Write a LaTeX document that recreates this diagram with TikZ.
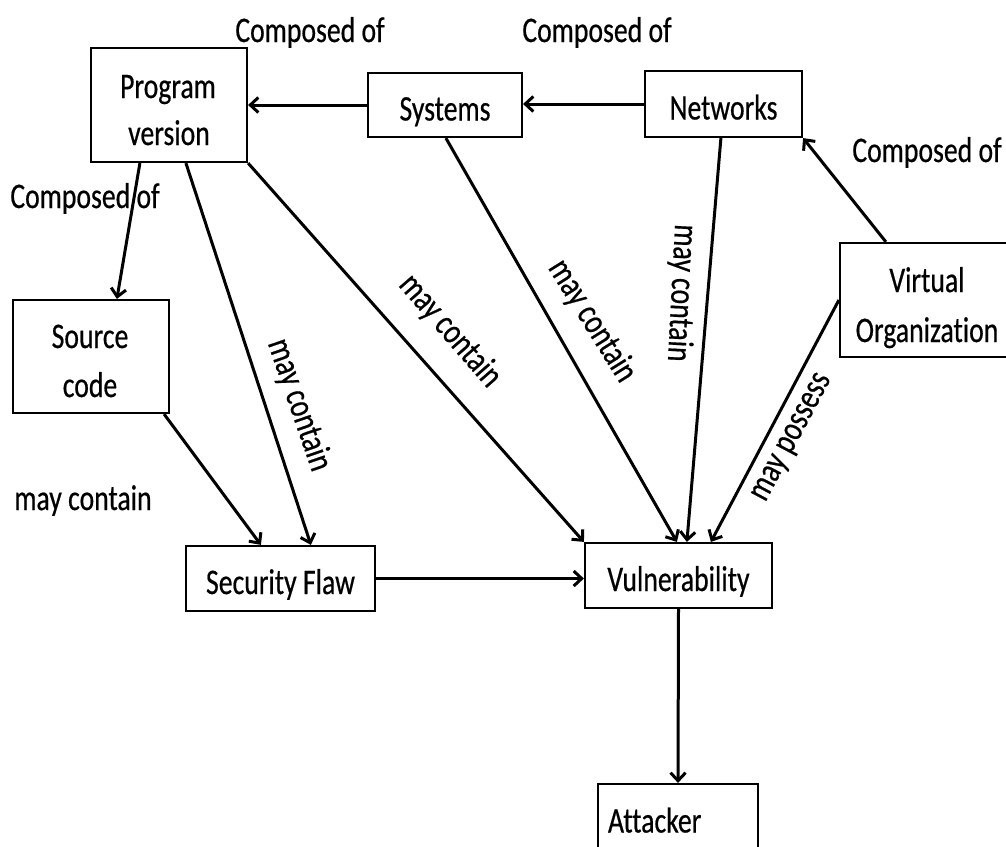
\documentclass[tikz,border=0pt]{standalone}
\usepackage{fontspec}
\setmainfont{Carlito}[FakeStretch=0.77,FakeBold=0.5,Ligatures=NoCommon]
\usetikzlibrary{arrows.meta,calc}
\begin{document}
\begin{tikzpicture}[x=1pt,y=-1pt,
  txt/.style={font=\fontsize{36}{48}\selectfont},
  ent/.style={txt,draw,line width=2.2pt,rectangle,inner sep=0pt,text height=31pt,text depth=0pt},
  lbl/.style={txt,inner sep=0pt},
  arr/.style={line width=3pt,-{Straight Barb[length=8pt,width=15pt,line width=3pt]}}]
\useasboundingbox (0,0) rectangle (1006,846);

% entities
\node[ent,minimum width=156pt,minimum height=114pt] (pv)  at (169,105)   {};
\node[lbl,anchor=base] (pv1) at ($(pv)+(-1,-7)$) {Program};
\node[lbl,anchor=base] (pv2) at ($(pv)+(0,40)$)  {version};
\node[ent,minimum width=154pt,minimum height=64pt]  (sys) at (445,105)   {Systems};
\node[ent,minimum width=157pt,minimum height=66pt]  (net) at (723.5,104) {Networks};
\node[ent,minimum width=174pt,minimum height=114pt] (vo)  at (927,300)   {};
\node[lbl,anchor=base] (vo1) at ($(vo)+(0,-8)$)  {Virtual};
\node[lbl,anchor=base] (vo2) at ($(vo)+(0,42)$)  {Organization};
\node[ent,minimum width=156pt,minimum height=113pt] (src) at (91,356.5)  {};
\node[lbl,anchor=base] (src1) at ($(src)+(-1,-8.5)$) {Source};
\node[lbl,anchor=base] (src2) at ($(src)+(-1,40.5)$) {code};
\node[ent,minimum width=189pt,minimum height=65pt]  (sf)  at (280.5,578.5) {Security Flaw};
\node[ent,minimum width=187pt,minimum height=65pt]  (vul) at (678.5,575.5) {Vulnerability};
\node[ent,minimum width=160pt,minimum height=74pt,text width=140pt,align=left,text height=23pt] (att) at (678,821) {Attacker};

% relations
\draw[arr] (sys.west) -- (pv.east);
\draw[arr] (net.west) -- (sys.east |- net.west);
\draw[arr] ($(vo.north west)+(47,0)$) -- (net.south east);
\draw[arr] ($(pv.south west)+(50,0)$) -- ($(src.north west)+(105,0)$);
\draw[arr] ($(pv.south west)+(96,0)$) -- ($(sf.north west)+(126,0)$);
\draw[arr] (pv.south east) -- (vul.north west);
\draw[arr] ($(sys.south west)+(79,0)$) -- ($(vul.north west)+(93,0)$);
\draw[arr] ($(net.south west)+(77,0)$) -- ($(vul.north west)+(103,0)$);
\draw[arr] (vo.west) -- ($(vul.north west)+(127,0)$);
\draw[arr] ($(src.south east)+(-6,0)$) -- ($(sf.north west)+(76,0)$);
\draw[arr] (sf.east) -- (vul.west |- sf.east);
\draw[arr] (vul.south) -- (att.north);

% relation labels
\node[lbl,anchor=base] (c1) at (310,42)  {Composed of};
\node[lbl,anchor=base] (c2) at (597,42)  {Composed of};
\node[lbl,anchor=base] (c3) at (927,162) {Composed of};
\node[lbl,anchor=base] (c4) at (85,208)  {Composed of};
\node[lbl,anchor=base] (m0) at (83,510)  {may contain};
\node[lbl,rotate=-71] (m1) at (299,405) {may contain};
\node[lbl,rotate=-49] (m2) at (450,331) {may contain};
\node[lbl,rotate=-58] (m3) at (592,321) {may contain};
\node[lbl,rotate=-93] (m4) at (681,293) {may contain};
\node[lbl,rotate=62]  (m5) at (793,438) {may possess};
\end{tikzpicture}
\end{document}
